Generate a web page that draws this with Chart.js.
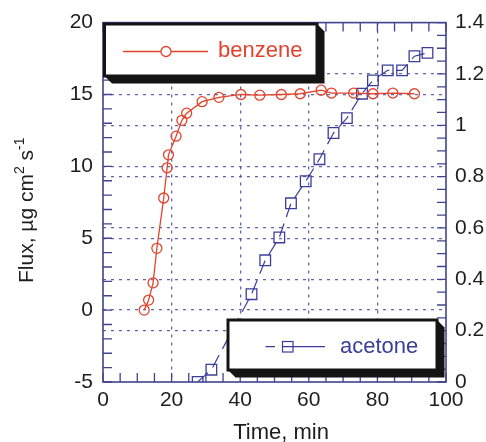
<!DOCTYPE html>
<html>
<head>
<meta charset="utf-8">
<script src="https://cdn.jsdelivr.net/npm/chart.js@4/dist/chart.umd.min.js"></script>
<style>
  html, body { margin: 0; padding: 0; background: #ffffff; }
  #wrap { width: 486px; height: 442px; position: relative; }
</style>
</head>
<body>
<div id="wrap"><canvas id="c"></canvas></div>
<script>
// Permeation flux through the membrane, two solvents
const benzeneTime = [12.0, 13.3, 14.6, 15.7, 17.7, 18.7, 19.1, 21.3, 23.0, 24.4, 28.9, 33.8, 40.2, 45.7, 52.0, 57.5, 63.6, 66.6, 73.1, 78.7, 84.5, 90.8];
const benzeneFlux = [0.0, 0.7, 1.9, 4.3, 7.8, 9.9, 10.8, 12.1, 13.2, 13.7, 14.5, 14.8, 15.0, 14.95, 15.0, 15.05, 15.3, 15.1, 15.1, 15.05, 15.1, 15.05];

const acetoneTime = [27.6, 31.6, 43.3, 47.3, 51.4, 54.8, 59.1, 63.1, 67.2, 71.1, 75.5, 78.7, 83.0, 87.2, 90.8, 94.6];
const acetoneFlux = [0.0, 0.048, 0.342, 0.474, 0.563, 0.696, 0.782, 0.868, 0.970, 1.028, 1.123, 1.175, 1.214, 1.214, 1.269, 1.282];

const seriesNames = ['benzene', 'acetone'];
const timeTicks = [0, 20, 40, 60, 80, 100];
const fluxTicks = [-5, 0, 5, 10, 15, 20];
const rightTicks = [0, 0.2, 0.4, 0.6, 0.8, 1, 1.2, 1.4];
const rightTickLabels = ['0', '0.2', '0.4', '0.6', '0.8', '1', '1.2', '1.4'];

const RED = '#e2432c';
const BLUE = '#3b3e98';
const FRAME = '#40438f';
const GRID = 'rgba(72,74,160,0.85)';
const INK = '#1e1e1e';
const FONT = '"Liberation Sans", Arial, Helvetica, sans-serif';

function toPoints(xs, ys) { return xs.map((x, i) => ({ x: x, y: ys[i] })); }

// grid lines only inside the frame, not on its edges
function innerGrid(lo, hi) {
  return ctx => {
    const v = ctx.tick ? ctx.tick.value : null;
    if (v === null || Math.abs(v - lo) < 1e-9 || Math.abs(v - hi) < 1e-9) return 'rgba(0,0,0,0)';
    return GRID;
  };
}

// inward ticks, frame, axis titles and the two boxed legends
const decorations = {
  id: 'decorations',
  afterDraw(chart) {
    const ctx = chart.ctx;
    const a = chart.chartArea;
    const xs = chart.scales.x, yl = chart.scales.y, yr = chart.scales.y2;
    ctx.save();

    // minor/major ticks pointing into the plot
    ctx.strokeStyle = FRAME;
    ctx.lineWidth = 1.3;
    ctx.beginPath();
    for (let v = 0; v <= 100; v += 5) {
      const px = xs.getPixelForValue(v);
      ctx.moveTo(px, a.bottom); ctx.lineTo(px, a.bottom - 9);
      ctx.moveTo(px, a.top); ctx.lineTo(px, a.top + 9);
    }
    for (let v = -5; v <= 20; v += 1) {
      const py = yl.getPixelForValue(v);
      ctx.moveTo(a.left, py); ctx.lineTo(a.left + 9, py);
    }
    for (let k = 0; k <= 28; k++) {
      const py = yr.getPixelForValue(k * 0.05);
      ctx.moveTo(a.right, py); ctx.lineTo(a.right - 9, py);
    }
    ctx.stroke();

    // frame
    ctx.lineWidth = 1.6;
    ctx.strokeRect(a.left, a.top, a.right - a.left, a.bottom - a.top);

    // x title
    ctx.fillStyle = INK;
    ctx.font = '22px ' + FONT;
    ctx.textAlign = 'center';
    ctx.textBaseline = 'middle';
    ctx.fillText('Time, min', 281, 433);

    // y title with superscripts
    ctx.save();
    ctx.translate(33, 283);
    ctx.rotate(-Math.PI / 2);
    ctx.textAlign = 'left';
    ctx.textBaseline = 'alphabetic';
    let cx = 0;
    const parts = [['Flux, \u00b5g cm', 21, 0], ['2', 14, -9], [' s', 21, 0], ['-1', 14, -9]];
    parts.forEach(p => {
      ctx.font = p[1] + 'px ' + FONT;
      ctx.fillText(p[0], cx, p[2]);
      cx += ctx.measureText(p[0]).width;
    });
    ctx.restore();

    // boxed legends with drop shadow
    function box(x0, y0, x1, y1, off) {
      ctx.fillStyle = '#141414';
      ctx.beginPath();
      ctx.moveTo(x1, y0);
      ctx.lineTo(x1 + off, y0 + off);
      ctx.lineTo(x1 + off, y1 + off);
      ctx.lineTo(x0 + off, y1 + off);
      ctx.lineTo(x0, y1);
      ctx.closePath();
      ctx.fill();
      ctx.fillStyle = '#ffffff';
      ctx.fillRect(x0, y0, x1 - x0, y1 - y0);
      ctx.strokeStyle = '#141414';
      ctx.lineWidth = 3;
      ctx.strokeRect(x0, y0, x1 - x0, y1 - y0);
    }

    // benzene
    box(104.5, 24, 317, 76, 7.5);
    ctx.strokeStyle = RED;
    ctx.lineWidth = 1.3;
    ctx.beginPath();
    ctx.moveTo(123, 51.5); ctx.lineTo(208, 51.5);
    ctx.stroke();
    ctx.fillStyle = '#ffffff';
    ctx.beginPath(); ctx.arc(166, 51.5, 5, 0, Math.PI * 2); ctx.fill(); ctx.stroke();
    ctx.fillStyle = RED;
    ctx.font = '22px ' + FONT;
    ctx.textAlign = 'left';
    ctx.textBaseline = 'middle';
    ctx.fillText(seriesNames[0], 218, 51);

    // acetone
    box(228, 320, 437, 370, 7.5);
    ctx.strokeStyle = BLUE;
    ctx.lineWidth = 1.2;
    ctx.beginPath();
    ctx.moveTo(265.5, 346.7); ctx.lineTo(275, 346.7);
    ctx.moveTo(282.5, 346.7); ctx.lineTo(325, 346.7);
    ctx.stroke();
    ctx.strokeRect(282.5, 341.5, 10.5, 10.5);
    ctx.fillStyle = BLUE;
    ctx.fillText(seriesNames[1], 340, 347);

    ctx.restore();
  }
};

new Chart(document.getElementById('c'), {
  type: 'scatter',
  data: {
    datasets: [
      {
        label: seriesNames[0],
        data: toPoints(benzeneTime, benzeneFlux),
        yAxisID: 'y',
        showLine: true,
        tension: 0,
        borderColor: RED,
        borderWidth: 1.3,
        pointStyle: 'circle',
        pointRadius: 5,
        pointBorderWidth: 1.3,
        pointBorderColor: RED,
        pointBackgroundColor: 'rgba(0,0,0,0)'
      },
      {
        label: seriesNames[1],
        data: toPoints(acetoneTime, acetoneFlux),
        yAxisID: 'y2',
        showLine: true,
        tension: 0,
        borderColor: BLUE,
        borderWidth: 1.2,
        borderDash: [14, 7],
        pointStyle: 'rect',
        pointRadius: 7.5,
        pointBorderWidth: 1.3,
        pointBorderColor: BLUE,
        pointBackgroundColor: 'rgba(0,0,0,0)'
      }
    ]
  },
  options: {
    responsive: true,
    maintainAspectRatio: false,
    animation: false,
    layout: { padding: { top: 22, left: 0, right: 0, bottom: 0 } },
    plugins: { legend: { display: false }, tooltip: { enabled: false } },
    scales: {
      x: {
        type: 'linear',
        position: 'bottom',
        min: 0, max: 100,
        afterBuildTicks: s => { s.ticks = timeTicks.map(v => ({ value: v })); },
        afterFit: s => { s.height = 60; },
        ticks: { color: INK, font: { family: FONT, size: 21 }, padding: 6, maxRotation: 0 },
        grid: { color: innerGrid(0, 100), lineWidth: 1.3, drawTicks: false },
        border: { display: false, dash: [3, 5] }
      },
      y: {
        type: 'linear',
        position: 'left',
        min: -5, max: 20,
        afterBuildTicks: s => { s.ticks = fluxTicks.map(v => ({ value: v })); },
        afterFit: s => { s.width = 103; },
        ticks: { color: INK, font: { family: FONT, size: 21 }, padding: 10 },
        grid: { color: innerGrid(-5, 20), lineWidth: 1.3, drawTicks: false },
        border: { display: false, dash: [3, 5] }
      },
      y2: {
        type: 'linear',
        position: 'right',
        min: 0, max: 1.4,
        afterBuildTicks: s => { s.ticks = rightTicks.map(v => ({ value: v })); },
        afterFit: s => { s.width = 40; },
        ticks: { color: INK, font: { family: FONT, size: 21 }, padding: 9,
                 callback: (v, i) => rightTickLabels[i] },
        grid: { color: innerGrid(0, 1.4), lineWidth: 1.3, drawTicks: false, drawOnChartArea: true },
        border: { display: false, dash: [3, 5] }
      }
    }
  },
  plugins: [decorations]
});
</script>
</body>
</html>
